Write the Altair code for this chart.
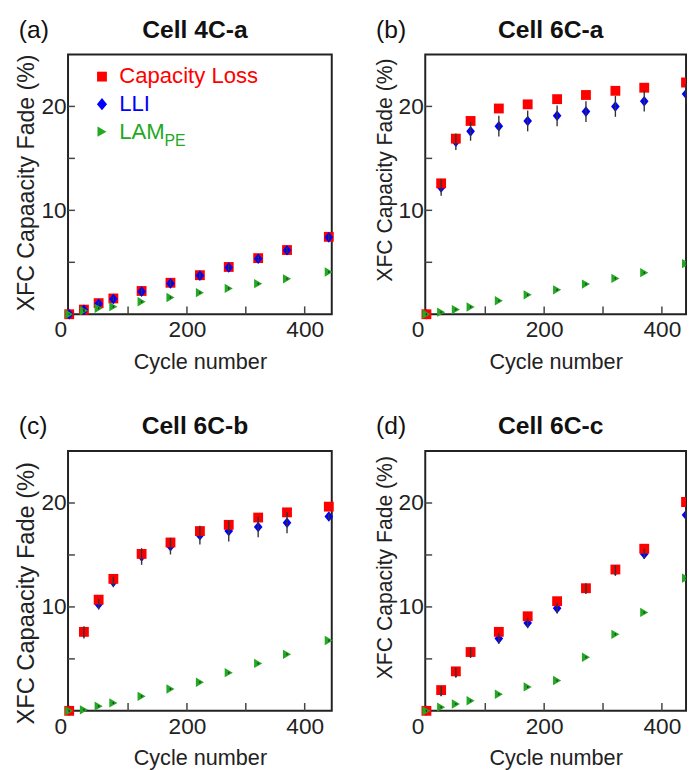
import altair as alt
import pandas as pd

FONT = "Liberation Sans"

# ---------------- data ----------------
cycles = [0, 25, 50, 75, 123, 172, 222, 271, 321, 370, 441]

series_names = ["Capacity Loss", "LLI", "LAM"]
series_colors = ["#ff0000", "#0000ff", "#22a822"]
diamond_path = "M0,-1.1L0.9,0L0,1.1L-0.9,0Z"
series_shapes = ["square", diamond_path, "triangle-right"]

x_tick_values = [100, 200, 300, 400]
y_tick_values = [5, 10, 15, 20]
x_label_values = [0, 200, 400]
y_label_values = [10, 20]

# Cell 4C-a
loss_4Ca = [0, 0.45, 1.07, 1.52, 2.24, 3.03, 3.76, 4.55, 5.40, 6.18, 7.45]
lli_4Ca = [0, 0.42, 1.02, 1.46, 2.18, 2.97, 3.72, 4.50, 5.35, 6.15, 7.40]
lam_4Ca = [0, 0.35, 0.57, 0.73, 1.20, 1.61, 2.08, 2.49, 2.94, 3.41, 4.07]
lli_err_4Ca = [0.05, 0.15, 0.2, 0.2, 0.3, 0.3, 0.3, 0.3, 0.3, 0.3, 0.3]
lam_err_4Ca = [0.0, 0.1, 0.1, 0.1, 0.1, 0.1, 0.1, 0.1, 0.1, 0.1, 0.1]

# Cell 6C-a
loss_6Ca = [0, 12.6, 16.9, 18.6, 19.8, 20.2, 20.7, 21.1, 21.5, 21.8, 22.3]
lli_6Ca = [0, 12.2, 16.6, 17.6, 18.1, 18.6, 19.1, 19.5, 20.0, 20.5, 21.2]
lam_6Ca = [0, 0.2, 0.45, 0.7, 1.3, 1.87, 2.35, 2.9, 3.45, 4.0, 4.87]
lli_err_6Ca = [0.1, 0.8, 0.8, 0.9, 1.0, 1.0, 1.0, 1.0, 1.0, 1.0, 1.0]
lam_err_6Ca = [0.0, 0.1, 0.1, 0.1, 0.1, 0.1, 0.1, 0.1, 0.1, 0.1, 0.1]

# Cell 6C-b
loss_6Cb = [0, 7.6, 10.7, 12.7, 15.1, 16.2, 17.3, 17.9, 18.6, 19.1, 19.65]
lli_6Cb = [0, 7.55, 10.25, 12.4, 14.85, 15.85, 16.9, 17.3, 17.7, 18.1, 18.7]
lam_6Cb = [0, 0.1, 0.45, 0.76, 1.4, 2.1, 2.75, 3.67, 4.56, 5.44, 6.77]
lli_err_6Cb = [0.1, 0.6, 0.5, 0.5, 0.8, 0.8, 0.9, 1.0, 1.0, 1.0, 0.3]
lam_err_6Cb = [0.0, 0.1, 0.1, 0.1, 0.1, 0.1, 0.1, 0.1, 0.1, 0.1, 0.1]

# Cell 6C-c
loss_6Cc = [0, 2.0, 3.8, 5.66, 7.6, 9.1, 10.55, 11.8, 13.6, 15.6, 20.1]
lli_6Cc = [0, 1.9, 3.7, 5.6, 6.95, 8.45, 9.87, 11.76, 13.5, 15.1, 18.85]
lam_6Cc = [0, 0.35, 0.66, 0.97, 1.6, 2.3, 2.92, 5.16, 7.36, 9.47, 12.77]
lli_err_6Cc = [0.1, 0.5, 0.5, 0.5, 0.5, 0.5, 0.5, 0.5, 0.5, 0.5, 0.5]
lam_err_6Cc = [0.0, 0.1, 0.1, 0.1, 0.1, 0.1, 0.1, 0.1, 0.1, 0.1, 0.1]

legend_labels = ["Capacity Loss", "LLI", "LAM"]
legend_sub = "PE"

PLOT_H = 264


def make_panel(letter, title, ytitle, ytitle_size, ytitle_y, loss, lli, lam, lli_err, lam_err,
               width, xmax, z_order, sizes, clip_last, legend=False):
    rows = []
    for name, vals, errs in [("Capacity Loss", loss, None),
                             ("LLI", lli, lli_err),
                             ("LAM", lam, lam_err)]:
        for i, c in enumerate(cycles):
            e = errs[i] if errs is not None else 0.0
            rows.append({"cycle": c, "value": vals[i], "series": name,
                         "lo": vals[i] - e, "hi": vals[i] + e,
                         "z": z_order[name], "err": e})
    df = pd.DataFrame(rows)

    xscale = alt.Scale(domain=[-2, xmax], nice=False, zero=False)
    yscale = alt.Scale(domain=[0, 25], nice=False, zero=False)
    xaxis = alt.Axis(values=x_label_values, title="Cycle number", tickSize=0,
                     domain=False, grid=False, labelPadding=5, titlePadding=10,
                     labelFlush=False,
                     labelOffset={"condition": {"test": "datum.value == 0", "value": -9},
                                  "value": 0})
    yaxis = alt.Axis(values=y_label_values, title=ytitle, tickSize=0,
                     domain=False, grid=False, labelPadding=2, titlePadding=2,
                     titleFontSize=ytitle_size, titleY=ytitle_y)

    X = alt.X("cycle:Q", scale=xscale, axis=xaxis)
    Y = alt.Y("value:Q", scale=yscale, axis=yaxis)

    pt_enc = dict(
        x=X, y=Y,
        shape=alt.Shape("series:N", scale=alt.Scale(domain=series_names, range=series_shapes), legend=None),
        color=alt.Color("series:N", scale=alt.Scale(domain=series_names, range=series_colors), legend=None),
        size=alt.Size("series:N", scale=alt.Scale(domain=series_names, range=sizes), legend=None),
        order=alt.Order("z:Q"),
    )
    base = alt.Chart(df)
    pts_main = base.mark_point(filled=True, opacity=1, strokeWidth=0).encode(**pt_enc).transform_filter(
        "datum.cycle < 441")
    pts_last = base.mark_point(filled=True, opacity=1, strokeWidth=0, clip=clip_last).encode(**pt_enc).transform_filter(
        "datum.cycle >= 441")

    errs = base.mark_rule(color="#333333", strokeWidth=1.4).encode(
        x=X, y=alt.Y("lo:Q", scale=yscale, axis=yaxis), y2="hi:Q"
    ).transform_filter("datum.err > 0")

    xt = alt.Chart(pd.DataFrame({"cycle": x_tick_values})).mark_rule(color="#444444", strokeWidth=1.5).encode(
        x=X, y=alt.value(PLOT_H), y2=alt.value(PLOT_H - 8))
    yt = alt.Chart(pd.DataFrame({"value": y_tick_values})).mark_rule(color="#444444", strokeWidth=1.5).encode(
        y=Y, x=alt.value(0), x2=alt.value(7))

    lab = alt.Chart(pd.DataFrame({"t": [f"({letter})"]})).mark_text(
        align="left", baseline="middle", fontSize=25, font=FONT, color="#111111"
    ).encode(x=alt.value(-50), y=alt.value(-25), text="t:N")

    ttl = alt.Chart(pd.DataFrame({"t": [title]})).mark_text(
        align="center", baseline="middle", fontSize=25, fontWeight="bold", font=FONT, color="#111111"
    ).encode(x=alt.value(width / 2 - 5), y=alt.value(-25), text="t:N")

    layers = [pts_main, pts_last, errs, xt, yt, lab, ttl]

    if legend:
        leg_sizes = [100, 130, 110]
        for i, name in enumerate(legend_labels):
            ly = 22.5 + 28 * i
            layers.append(
                alt.Chart(pd.DataFrame({"label": [name]})).mark_point(
                    filled=True, opacity=1, strokeWidth=0, shape=series_shapes[i],
                    size=leg_sizes[i], color=series_colors[i]
                ).encode(x=alt.value(34.5), y=alt.value(ly))
            )
            layers.append(
                alt.Chart(pd.DataFrame({"label": [name]})).mark_text(
                    align="left", baseline="middle", fontSize=22.5, font=FONT, color=series_colors[i]
                ).encode(x=alt.value(52), y=alt.value(ly), text="label:N")
            )
        layers.append(
            alt.Chart(pd.DataFrame({"label": [legend_sub]})).mark_text(
                align="left", baseline="middle", fontSize=16, font=FONT, color=series_colors[2]
            ).encode(x=alt.value(98), y=alt.value(22.5 + 56 + 10), text="label:N")
        )

    return alt.layer(*layers).properties(width=width, height=PLOT_H)


z_blue_top = {"Capacity Loss": 1, "LLI": 2, "LAM": 3}
z_red_top = {"Capacity Loss": 2, "LLI": 1, "LAM": 3}

pa = make_panel("a", "Cell 4C-a", "XFC Capaacity Fade (%)", 23.5, 130, loss_4Ca, lli_4Ca, lam_4Ca,
                lli_err_4Ca, lam_err_4Ca, 268, 446, z_blue_top, [100, 90, 110], False, legend=True)
pb = make_panel("b", "Cell 6C-a", "XFC Capacity Fade (%)", 21.5, 117, loss_6Ca, lli_6Ca, lam_6Ca,
                lli_err_6Ca, lam_err_6Ca, 265, 441, z_red_top, [64, 155, 110], True)
pc = make_panel("c", "Cell 6C-b", "XFC Capaacity Fade (%)", 24, 144, loss_6Cb, lli_6Cb, lam_6Cb,
                lli_err_6Cb, lam_err_6Cb, 268, 446, z_red_top, [80, 140, 110], False)
pdd = make_panel("d", "Cell 6C-c", "XFC Capacity Fade (%)", 21.5, 118, loss_6Cc, lli_6Cc, lam_6Cc,
                 lli_err_6Cc, lam_err_6Cc, 265, 441, z_red_top, [75, 150, 110], True)

chart = alt.concat(
    pa, pb, pc, pdd, columns=2,
    spacing={"row": 139, "column": 95}, bounds="flush",
).properties(
    padding={"left": 6, "top": 3, "right": 0, "bottom": 0}
).configure_view(
    stroke="#222222", strokeWidth=2
).configure_axis(
    labelFont=FONT, titleFont=FONT, labelFontSize=23, titleFontSize=22,
    labelColor="#222222", titleColor="#222222", titleFontWeight="normal"
)

chart.save("out.html", embed_options={"renderer": "svg", "actions": False})
